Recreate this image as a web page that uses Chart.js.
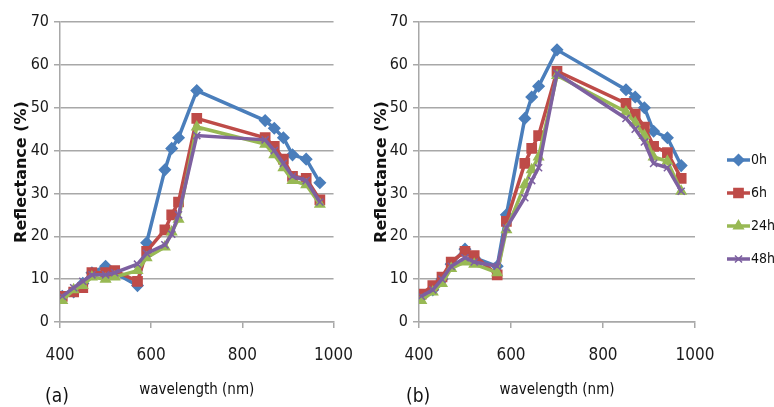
<!DOCTYPE html>
<html>
<head>
<meta charset="utf-8">
<script src="https://cdn.jsdelivr.net/npm/chart.js@4.4.1/dist/chart.umd.min.js"></script>
<style>
    body { margin: 0; background: #fff; width: 774px; height: 407px; overflow: hidden; position: relative; }
    .panel { position: absolute; top: 0; }
    .tag { position: absolute; font-family: 'DejaVu Sans', sans-serif; font-stretch: condensed; font-size: 19px; color: #111; }
</style>
</head>
<body>
<div class="panel" style="left:0"><canvas id="chartA" width="370" height="407"></canvas></div>
<div class="panel" style="left:360px"><canvas id="chartB" width="414" height="407"></canvas></div>
<div class="tag" style="left:45px; top:384px">(a)</div>
<div class="tag" style="left:406px; top:384px">(b)</div>

<script>
// Data
const wavelengths = [405, 430, 450, 470, 500, 520, 570, 590, 630, 645, 660, 700, 850, 870, 890, 910, 940, 970];
const seriesNames = ['0h', '6h', '24h', '48h'];

// panel (a)
const a0h  = [6, 7, 9, 11.5, 13, 11.5, 8.5, 18.5, 35.5, 40.5, 43, 54, 47, 45.2, 43, 39, 38, 32.5];
const a6h  = [6, 7, 8, 11.5, 11.5, 12, 9.5, 16.5, 21.5, 25, 28, 47.5, 43, 41, 38, 34, 33.5, 28.5];
const a24h = [5, 7.5, 8.5, 10.5, 10, 10.5, 12, 15, 17.5, 21, 24, 45.5, 41.5, 39, 36, 33, 32, 27.5];
const a48h = [6, 8, 9.5, 11, 11, 11.5, 13.5, 16, 18, 20.5, 25, 43.5, 42.5, 40, 37, 34, 33, 28];

// panel (b)
const b0h  = [6, 7.5, 10, 13.5, 17, 15, 13, 25, 47.5, 52.5, 55, 63.5, 54.2, 52.5, 50, 44.5, 43, 36.5];
const b6h  = [6.5, 8.5, 10.5, 14, 16.5, 15.5, 11, 23.5, 37, 40.5, 43.5, 58.5, 51, 48.5, 45.5, 41, 39.5, 33.5];
const b24h = [5, 7, 9, 12.5, 14, 13.5, 11.5, 21.5, 32, 35.5, 38.5, 57.5, 49, 46.5, 43.5, 38.5, 37.5, 30.5];
const b48h = [6, 7.5, 10, 13, 15, 14, 13, 22, 29, 33, 36, 58, 47.5, 45, 42, 37, 36, 30.5];

// Styles
const colors = ['#4a7ebb', '#be4b48', '#98b954', '#7d60a0'];
const markers = ['rectRot', 'rect', 'triangle', 'crossRot'];
const markerSizes = [5.5, 6.5, 5.5, 5];
const FONT = "'DejaVu Sans', sans-serif";
const GRID = '#a8a8a8';

function buildDatasets(values) {
    return seriesNames.map((name, i) => ({
        label: name,
        data: wavelengths.map((w, j) => ({ x: w, y: values[i][j] })),
        borderColor: colors[i],
        backgroundColor: colors[i],
        pointStyle: markers[i],
        pointRadius: markerSizes[i],
        pointBorderWidth: 1.5,
        borderWidth: 3.5,
        order: seriesNames.length - i
    }));
}

// Legend drawn as line + marker, like the original
const sideLegend = {
    id: 'sideLegend',
    afterDraw(chart, args, opts) {
        if (!opts.show) return;
        const ctx = chart.ctx;
        ctx.save();
        chart.data.datasets.forEach((ds, i) => {
            const y = opts.top + i * opts.step;
            ctx.strokeStyle = ds.borderColor;
            ctx.fillStyle = ds.backgroundColor;
            ctx.lineWidth = 3.5;
            ctx.beginPath();
            ctx.moveTo(opts.x, y);
            ctx.lineTo(opts.x + opts.len, y);
            ctx.stroke();
            ctx.lineWidth = 1.5;
            Chart.helpers.drawPoint(ctx, { pointStyle: ds.pointStyle, radius: ds.pointRadius, borderWidth: 1.5 }, opts.x + opts.len / 2, y);
            ctx.fillStyle = '#111';
            ctx.font = 'normal condensed 14px ' + FONT;
            ctx.textBaseline = 'middle';
            ctx.textAlign = 'left';
            ctx.fillText(ds.label, opts.x + opts.len + 1, y);
        });
        ctx.restore();
    }
};

function chartOptions(yAxisWidth, padRight, legendOpts) {
    return {
        responsive: false,
        animation: false,
        layout: { padding: { left: 0, top: 22, right: padRight, bottom: 0 } },
        plugins: {
            legend: { display: false },
            tooltip: { enabled: false },
            sideLegend: legendOpts
        },
        scales: {
            x: {
                type: 'linear',
                min: 400,
                max: 1000,
                ticks: {
                    stepSize: 200,
                    callback: v => String(v),
                    font: { family: FONT, size: 17, weight: 'condensed' },
                    color: '#1a1a1a',
                    padding: 17
                },
                grid: { drawOnChartArea: false, drawTicks: true, tickLength: 6, color: GRID, lineWidth: 1.5 },
                border: { color: GRID, width: 1.5 },
                title: {
                    display: true,
                    text: 'wavelength (nm)',
                    font: { family: FONT, size: 15, weight: 'condensed' },
                    color: '#111',
                    padding: { top: 0, bottom: 8 }
                },
                afterFit: s => { s.height = 85; }
            },
            y: {
                min: 0,
                max: 70,
                ticks: {
                    stepSize: 10,
                    font: { family: FONT, size: 16, weight: 'condensed' },
                    color: '#1a1a1a',
                    padding: 5
                },
                grid: { color: GRID, lineWidth: 1.5, tickLength: 6 },
                border: { color: GRID, width: 1.5 },
                title: {
                    display: true,
                    text: 'Reflectance (%)',
                    font: { family: FONT, size: 16, weight: 'bold' },
                    color: '#111',
                    padding: { top: 12, bottom: 0 }
                },
                afterFit: s => { s.width = yAxisWidth; }
            }
        }
    };
}

new Chart(document.getElementById('chartA'), {
    type: 'line',
    data: { datasets: buildDatasets([a0h, a6h, a24h, a48h]) },
    options: chartOptions(60, 33, { show: false }),
    plugins: [sideLegend]
});

new Chart(document.getElementById('chartB'), {
    type: 'line',
    data: { datasets: buildDatasets([b0h, b6h, b24h, b48h]) },
    options: chartOptions(59, 79, { show: true, x: 367, len: 23, top: 160, step: 33 }),
    plugins: [sideLegend]
});
</script>
</body>
</html>
